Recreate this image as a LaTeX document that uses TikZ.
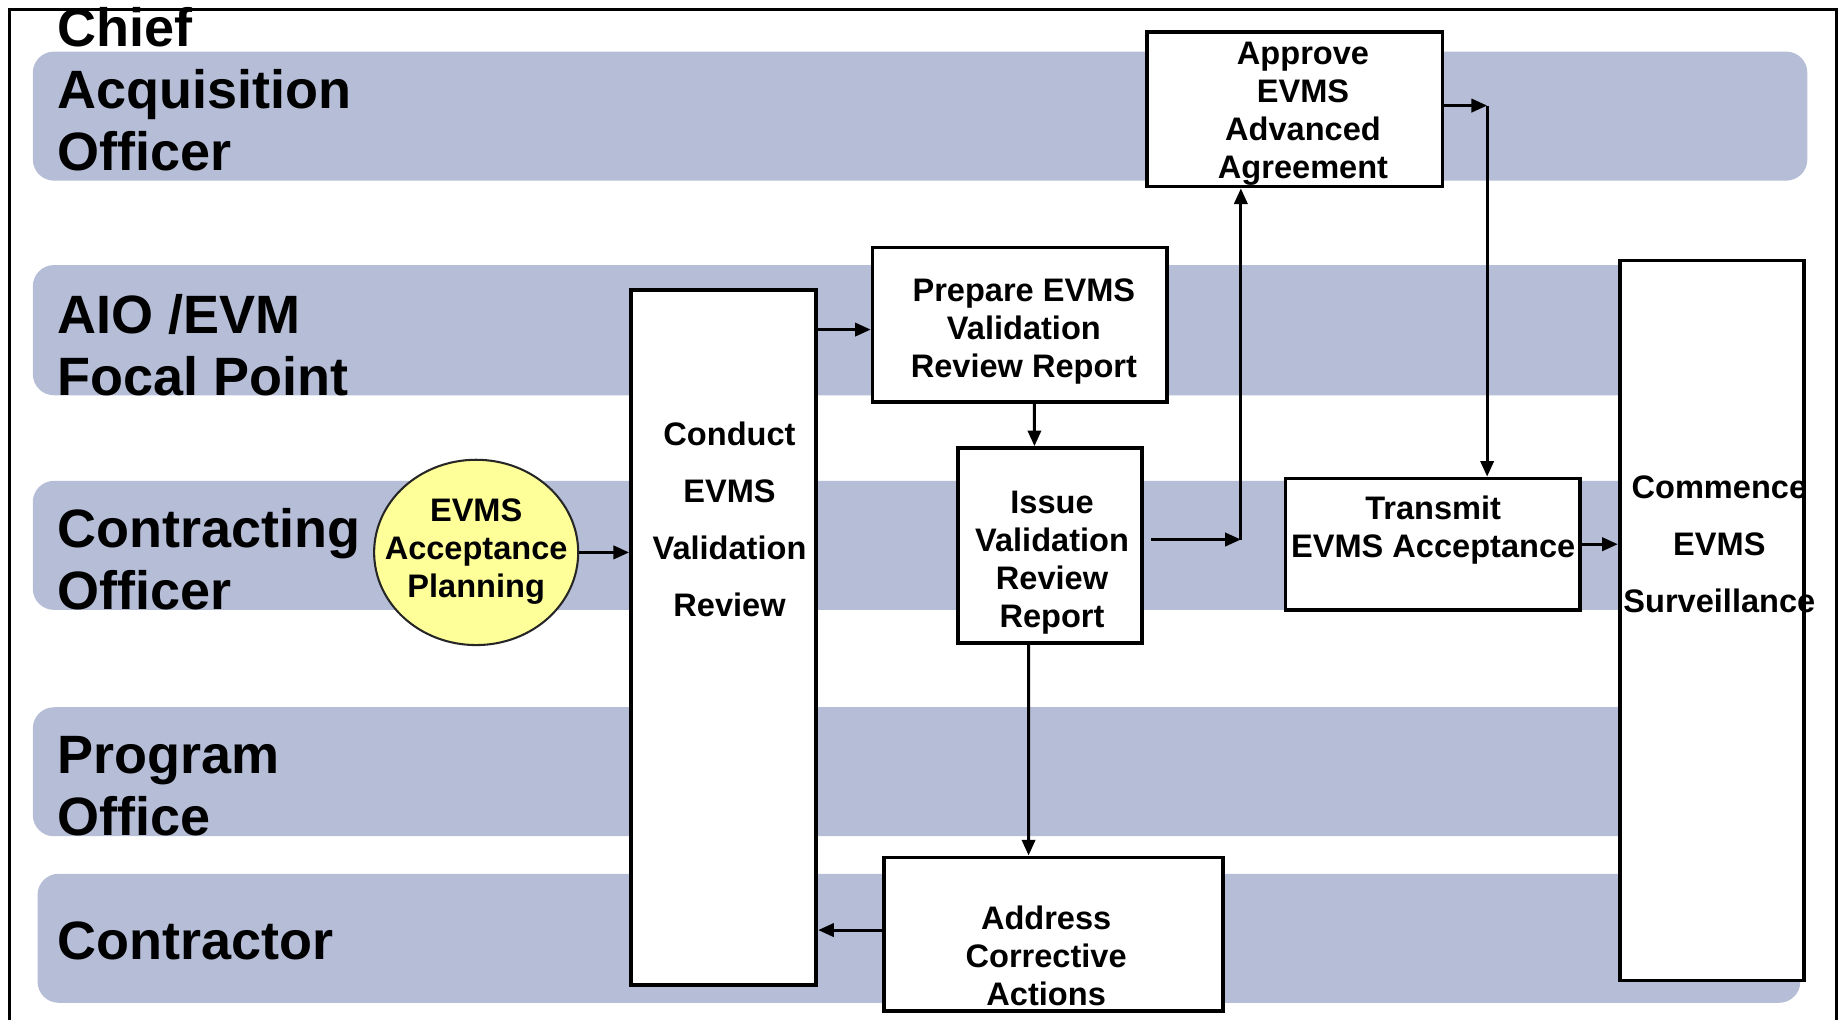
\documentclass[tikz,border=0pt]{standalone}
\usepackage{fontspec}
\setmainfont{Liberation Sans}
\usetikzlibrary{arrows.meta,shapes.geometric}
\definecolor{lanefill}{HTML}{B5BDD7}
\definecolor{planfill}{HTML}{FFFF99}

\begin{document}
\begin{tikzpicture}[x=0.1mm,y=-0.1mm,
  lane/.style={fill=lanefill, draw=none, rounded corners=1.8mm},
  lanetext/.style={anchor=base west, inner sep=0pt, font=\bfseries\fontsize{13.1}{15}\selectfont},
  proc/.style={draw=black, line width=0.9pt, fill=white, rectangle, inner sep=0pt},
  proctext/.style={align=center, inner sep=0pt, font=\bfseries\fontsize{7.9}{9.2}\selectfont},
  tallproctext/.style={proctext, font=\bfseries\fontsize{7.9}{13.8}\selectfont},
  arr/.style={line width=0.75pt, -{Triangle[length=3.8pt,width=3.2pt]}},
]
\useasboundingbox (0,0) rectangle (1568,870);

% swim lanes
\fill[lane] (28,44)  rectangle (1541,154);
\fill[lane] (28,226) rectangle (1535,337);
\fill[lane] (28,410) rectangle (1535,520);
\fill[lane] (28,603) rectangle (1535,713);
\fill[lane] (32,745) rectangle (1535,855);

% outer frame
\draw[line width=0.7pt] (8,870) -- (8,8) -- (1566,8) -- (1566,870);

% lane labels
\node[lanetext] (caoA) at (48,39.5)  {Chief};
\node[lanetext] (caoB) at (48,92.5)  {Acquisition};
\node[lanetext] (caoC) at (48,145.5) {Officer};
\node[lanetext] (aioA) at (48,284.5) {AIO /EVM};
\node[lanetext] (aioB) at (48,337.5) {Focal Point};
\node[lanetext] (coA)  at (48,466.5) {Contracting};
\node[lanetext] (coB)  at (48,519.5) {Officer};
\node[lanetext] (poA)  at (48,659.5) {Program};
\node[lanetext] (poB)  at (48,712.5) {Office};
\node[lanetext] (ctr)  at (48,818.5) {Contractor};

% process boxes
\node[proc, minimum width=15.8mm, minimum height=59.3mm] (conduct)  at (617,543.5) {};
\node[proc, minimum width=25.1mm, minimum height=13.2mm] (prepare)  at (869.5,277) {};
\node[proc, minimum width=25.2mm, minimum height=13.2mm] (approve)  at (1104,93) {};
\node[proc, minimum width=15.7mm, minimum height=16.6mm] (issue)    at (895.5,465) {};
\node[proc, minimum width=25.1mm, minimum height=11.2mm] (transmit) at (1221.5,464) {};
\node[proc, minimum width=15.7mm, minimum height=61.4mm] (commence) at (1459.5,529) {};
\node[proc, minimum width=28.9mm, minimum height=13.1mm] (address)  at (898.5,796.5) {};
\node[ellipse, draw=black!85, line width=0.5pt, fill=planfill, inner sep=0pt,
      minimum width=17.4mm, minimum height=15.8mm] (plan) at (406,471) {};

% box texts
\node[tallproctext] (conductlbl)  at (622,443)  {Conduct\\EVMS\\Validation\\Review};
\node[proctext]     (preparelbl)  at (873,283)  {Prepare EVMS\\Validation\\Review Report};
\node[proctext]     (approvelbl)  at (1111,97)  {Approve\\EVMS\\Advanced\\Agreement};
\node[proctext]     (issuelbl)    at (897,480)  {Issue\\Validation\\Review\\Report};
\node[proctext]     (transmitlbl) at (1222,452) {Transmit\\EVMS Acceptance};
\node[tallproctext] (commencelbl) at (1466,464) {Commence\\EVMS\\Surveillance};
\node[proctext]     (addresslbl)  at (892,815)  {Address\\Corrective\\Actions};
\node[proctext]     (planlbl)     at (406,470)  {EVMS\\Acceptance\\Planning};

% connectors
\coordinate (toapprove)  at (1058,460);
\coordinate (totransmit) at (1268,90);

\draw[arr] (plan.east) -- (conduct.west |- plan.east);
\draw[arr] ([yshift=-0.4mm]conduct.east |- prepare.west) -- ([yshift=-0.4mm]prepare.west);
\draw[arr] ([xshift=1.25mm]prepare.south) -- ([xshift=-1.35mm]issue.north);
\draw[arr] ([xshift=0.6mm]issue.east |- toapprove) -- (toapprove);
\draw[arr] (toapprove) -- (approve.south -| toapprove);
\draw[arr] (approve.east |- totransmit) -- (totransmit);
\draw[arr] (totransmit) -- (transmit.north -| totransmit);
\draw[arr] (transmit.east) -- (commence.west |- transmit.east);
\draw[arr] ([xshift=-1.85mm]issue.south) -- ([xshift=-2.15mm]address.north);
\draw[arr] ([yshift=0.35mm]address.west) -- ([yshift=0.35mm]conduct.east |- address.west);
\end{tikzpicture}
\end{document}
